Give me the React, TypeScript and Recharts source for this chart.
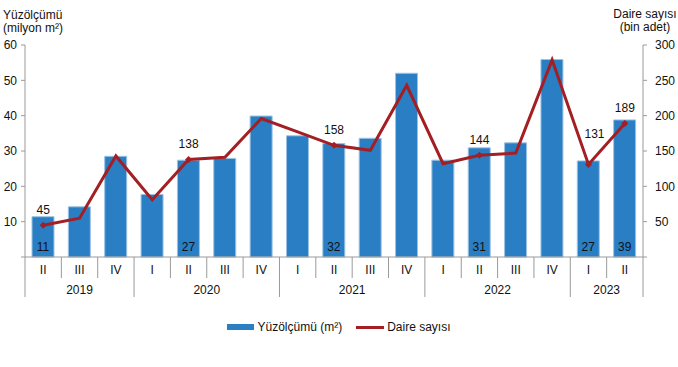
import { Bar, ComposedChart, Line, XAxis, YAxis, Legend, LabelList } from "recharts"

// quarters from 2019 Q2 to 2023 Q2
const quarters = ["II", "III", "IV", "I", "II", "III", "IV", "I", "II", "III", "IV", "I", "II", "III", "IV", "I", "II"]
const years = [
  "2019", "2019", "2019",
  "2020", "2020", "2020", "2020",
  "2021", "2021", "2021", "2021",
  "2022", "2022", "2022", "2022",
  "2023", "2023",
]
// floor area, million m²
const floorArea = [11.4, 14.2, 28.5, 17.7, 27.4, 27.9, 39.9, 34.3, 32.1, 33.6, 52.0, 27.4, 30.9, 32.3, 55.9, 27.2, 38.8]
// number of dwellings, thousand
const dwellings = [45, 55, 143, 81, 138, 141, 196, 177, 158, 151, 243, 132, 144, 147, 279, 131, 189]
// periods that carry value labels
const labeledIdx = [0, 4, 8, 12, 15, 16]

const leftTicks = [0, 10, 20, 30, 40, 50, 60]
const rightTicks = [0, 50, 100, 150, 200, 250, 300]

const W = 678
const H = 367
const LEFT_AXIS_W = 25
const RIGHT_AXIS_W = 35
const bandW = (W - LEFT_AXIS_W - RIGHT_AXIS_W) / quarters.length

const FONT = "'Liberation Sans', Arial, sans-serif"
const BLUE = "#2a7ec3"
const RED = "#a31f24"
const AXIS = "#9a9a9a"
const TEXT = "#111"

const data = quarters.map((q, i) => ({
  q,
  year: years[i],
  area: floorArea[i],
  units: dwellings[i],
}))

function PeriodTick(props: any) {
  const { x, y, index } = props
  const i = index as number
  const left = x - bandW / 2
  const first = i === 0 || years[i] !== years[i - 1]
  const last = i === quarters.length - 1
  const groupSize = years.filter((yr) => yr === years[i]).length
  return (
    <g fontFamily={FONT} fontSize={12} fill={TEXT}>
      <text x={x} y={y + 17} textAnchor="middle">
        {quarters[i]}
      </text>
      <line x1={left} x2={left} y1={y} y2={y + (first ? 40 : 21)} stroke={AXIS} />
      {last && <line x1={x + bandW / 2} x2={x + bandW / 2} y1={y} y2={y + 40} stroke={AXIS} />}
      {first && (
        <text x={x + ((groupSize - 1) / 2) * bandW} y={y + 37} textAnchor="middle">
          {years[i]}
        </text>
      )}
    </g>
  )
}

function AreaLabel(props: any) {
  const { x, y, width, height, index, value } = props
  if (!labeledIdx.includes(index)) return null
  return (
    <text x={x + width / 2} y={y + height - 6} textAnchor="middle" fontSize={12} fontFamily={FONT} fill={TEXT}>
      {Math.round(value)}
    </text>
  )
}

// the label of a dip sits a little higher so the line does not cross it
const labelLift: Record<number, number> = { 15: 15 }

function UnitsLabel(props: any) {
  const { x, y, index, value } = props
  if (!labeledIdx.includes(index)) return null
  return (
    <text
      x={x + (labelLift[index] ? 6 : 0)}
      y={y - 11 - (labelLift[index] || 0)}
      textAnchor="middle"
      fontSize={12}
      fontFamily={FONT}
      fill={TEXT}
    >
      {value}
    </text>
  )
}

function UnitsDot(props: any) {
  const { cx, cy, index } = props
  if (!labeledIdx.includes(index)) return <g key={`d${index}`} />
  return <path key={`d${index}`} d={`M${cx},${cy - 3.5}L${cx + 3.5},${cy}L${cx},${cy + 3.5}L${cx - 3.5},${cy}Z`} fill={RED} />
}

function LegendBox() {
  return (
    <div
      style={{
        display: "flex",
        justifyContent: "center",
        alignItems: "center",
        fontFamily: FONT,
        fontSize: 12,
        color: TEXT,
        height: 20,
      }}
    >
      <span style={{ width: 27, height: 6, background: BLUE, marginRight: 3 }} />
      <span style={{ marginRight: 14 }}>Yüzölçümü (m²)</span>
      <span style={{ width: 28, height: 3, background: RED, marginRight: 3 }} />
      <span>Daire sayısı</span>
    </div>
  )
}

export default function App() {
  return (
    <div style={{ position: "absolute", left: 0, top: 0, width: W, height: H, background: "#fff" }}>
      <div
        style={{
          position: "absolute",
          left: 3,
          top: 9,
          fontFamily: FONT,
          fontSize: 12,
          lineHeight: "13px",
          color: TEXT,
        }}
      >
        Yüzölçümü
        <br />
        (milyon m²)
      </div>
      <div
        style={{
          position: "absolute",
          left: 605,
          width: 80,
          top: 8,
          textAlign: "center",
          fontFamily: FONT,
          fontSize: 12,
          lineHeight: "13px",
          color: TEXT,
        }}
      >
        Daire sayısı
        <br />
        (bin adet)
      </div>
      <ComposedChart width={W} height={H} data={data} margin={{ top: 45, right: 0, bottom: 30, left: 0 }}>
        <XAxis
          dataKey="q"
          interval={0}
          height={60}
          tickSize={0}
          tickMargin={0}
          tickLine={false}
          axisLine={{ stroke: AXIS }}
          tick={<PeriodTick />}
        />
        <YAxis
          yAxisId="left"
          width={LEFT_AXIS_W}
          domain={[0, 60]}
          ticks={leftTicks}
          interval={0}
          stroke={AXIS}
          tickSize={4}
          tickMargin={4}
          tick={{ fill: TEXT, fontSize: 12, fontFamily: FONT }}
          tickFormatter={(v) => (v === 0 ? "" : String(v))}
        />
        <YAxis
          yAxisId="right"
          orientation="right"
          width={RIGHT_AXIS_W}
          domain={[0, 300]}
          ticks={rightTicks}
          interval={0}
          stroke={AXIS}
          tickSize={4}
          tickMargin={8}
          tick={{ fill: TEXT, fontSize: 12, fontFamily: FONT, textAnchor: "start" }}
          tickFormatter={(v) => (v === 0 ? "" : String(v))}
        />
        <Legend verticalAlign="bottom" height={20} content={() => <LegendBox />} />
        <Bar
          yAxisId="left"
          dataKey="area"
          name="Yüzölçümü (m²)"
          fill={BLUE}
          stroke="#9cc3e5"
          strokeWidth={1}
          barSize={22}
          isAnimationActive={false}
        >
          <LabelList dataKey="area" content={<AreaLabel />} />
        </Bar>
        <Line
          yAxisId="right"
          type="linear"
          dataKey="units"
          name="Daire sayısı"
          stroke={RED}
          strokeWidth={3}
          dot={(p: any) => <UnitsDot {...p} />}
          activeDot={false}
          isAnimationActive={false}
        >
          <LabelList dataKey="units" content={<UnitsLabel />} />
        </Line>
      </ComposedChart>
    </div>
  )
}
